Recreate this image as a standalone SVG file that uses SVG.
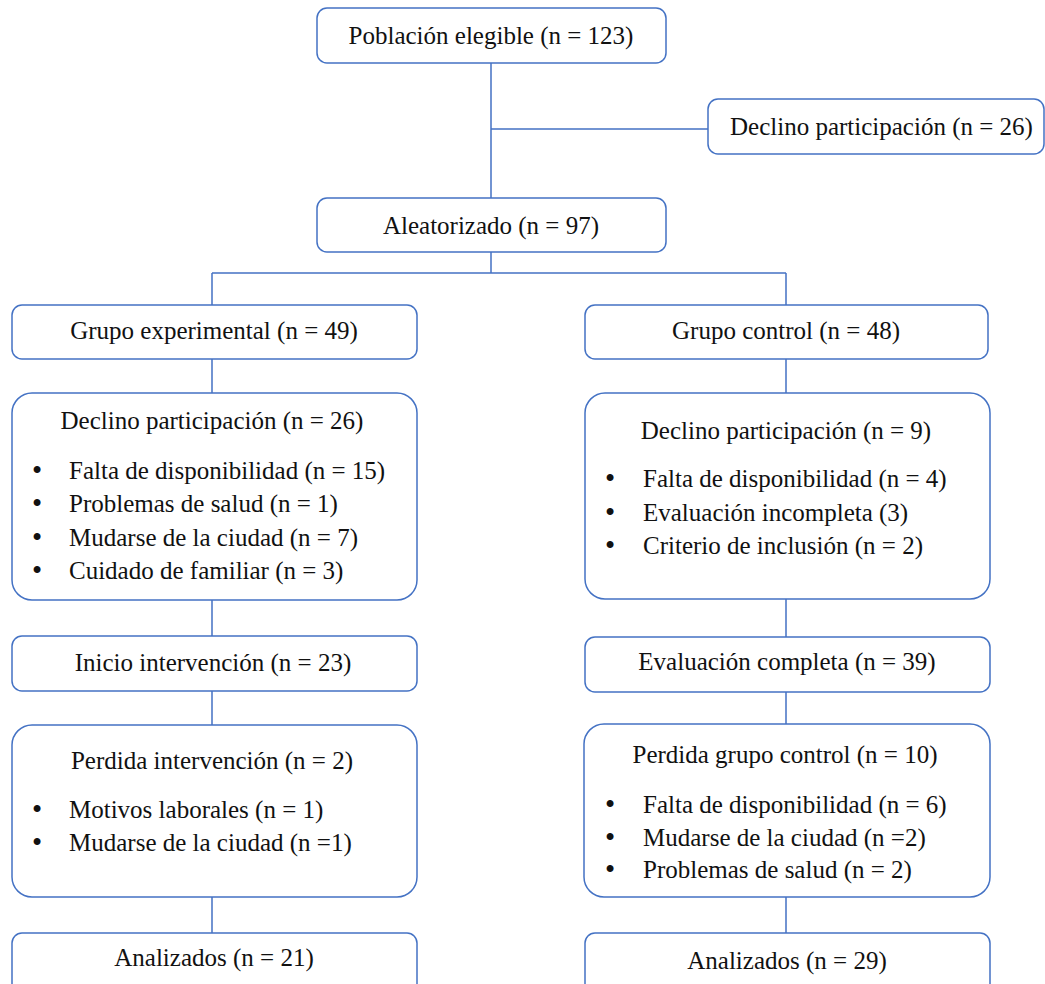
<svg xmlns="http://www.w3.org/2000/svg" width="1045" height="984" viewBox="0 0 1045 984">
<style>
.box{fill:#fff;stroke:#4472C4;stroke-width:1.5}
.ln{stroke:#4472C4;stroke-width:1.5;fill:none}
text{font-family:"Liberation Serif","Times New Roman",serif;font-size:25px;fill:#111}
.c{text-anchor:middle}
.b{font-size:29px}
</style>
<rect width="1045" height="984" fill="#fff"/>
<g id="connectors">
<path class="ln" d="M491 63V198M491 129H708M491 252V273M212 273H786M212 273V305M786 273V305M212 359V393M786 359V393M212 600V636M786 599V637M212 691V725M786 692V724M212 897V933M786 897V933"/>
</g>
<g id="n1"><rect class="box" x="317" y="8" width="349" height="55" rx="10"/><text class="c" x="491" y="44">Población elegible (n = 123)</text></g>
<g id="n2"><rect class="box" x="708" y="99" width="336" height="55" rx="10"/><text x="730" y="135">Declino participación (n = 26)</text></g>
<g id="n3"><rect class="box" x="317" y="198" width="349" height="54" rx="10"/><text class="c" x="491" y="234">Aleatorizado (n = 97)</text></g>
<g id="n4"><rect class="box" x="12" y="305" width="405" height="54" rx="10"/><text class="c" x="214" y="339">Grupo experimental (n = 49)</text></g>
<g id="n5"><rect class="box" x="585" y="305" width="403" height="54" rx="10"/><text class="c" x="786" y="339">Grupo control (n = 48)</text></g>
<g id="n6"><rect class="box" x="12" y="393" width="405" height="207" rx="20"/>
<text class="c" x="212" y="429">Declino participación (n = 26)</text>
<text class="b" x="32" y="480">•</text><text x="69" y="479">Falta de disponibilidad (n = 15)</text>
<text class="b" x="32" y="513">•</text><text x="69" y="512">Problemas de salud (n = 1)</text>
<text class="b" x="32" y="547">•</text><text x="69" y="546">Mudarse de la ciudad (n = 7)</text>
<text class="b" x="32" y="580">•</text><text x="69" y="579">Cuidado de familiar (n = 3)</text>
</g>
<g id="n7"><rect class="box" x="585" y="393" width="405" height="206" rx="20"/>
<text class="c" x="786" y="439">Declino participación (n = 9)</text>
<text class="b" x="605" y="488">•</text><text x="643" y="487">Falta de disponibilidad (n = 4)</text>
<text class="b" x="605" y="522">•</text><text x="643" y="521">Evaluación incompleta (3)</text>
<text class="b" x="605" y="555">•</text><text x="643" y="554">Criterio de inclusión (n = 2)</text>
</g>
<g id="n8"><rect class="box" x="12" y="636" width="405" height="55" rx="10"/><text class="c" x="213" y="671">Inicio intervención (n = 23)</text></g>
<g id="n9"><rect class="box" x="585" y="637" width="405" height="55" rx="10"/><text class="c" x="787" y="670">Evaluación completa (n = 39)</text></g>
<g id="n10"><rect class="box" x="12" y="725" width="405" height="172" rx="20"/>
<text class="c" x="212" y="769">Perdida intervención (n = 2)</text>
<text class="b" x="32" y="819">•</text><text x="69" y="818">Motivos laborales (n = 1)</text>
<text class="b" x="32" y="852">•</text><text x="69" y="851">Mudarse de la ciudad (n =1)</text>
</g>
<g id="n11"><rect class="box" x="584" y="724" width="406" height="173" rx="20"/>
<text class="c" x="785" y="763">Perdida grupo control (n = 10)</text>
<text class="b" x="605" y="814">•</text><text x="643" y="813">Falta de disponibilidad (n = 6)</text>
<text class="b" x="605" y="847">•</text><text x="643" y="846">Mudarse de la ciudad (n =2)</text>
<text class="b" x="605" y="879">•</text><text x="643" y="878">Problemas de salud (n = 2)</text>
</g>
<g id="n12"><rect class="box" x="12" y="933" width="405" height="70" rx="10"/><text class="c" x="214" y="966">Analizados (n = 21)</text></g>
<g id="n13"><rect class="box" x="585" y="933" width="405" height="70" rx="10"/><text class="c" x="787" y="969">Analizados (n = 29)</text></g>
</svg>
